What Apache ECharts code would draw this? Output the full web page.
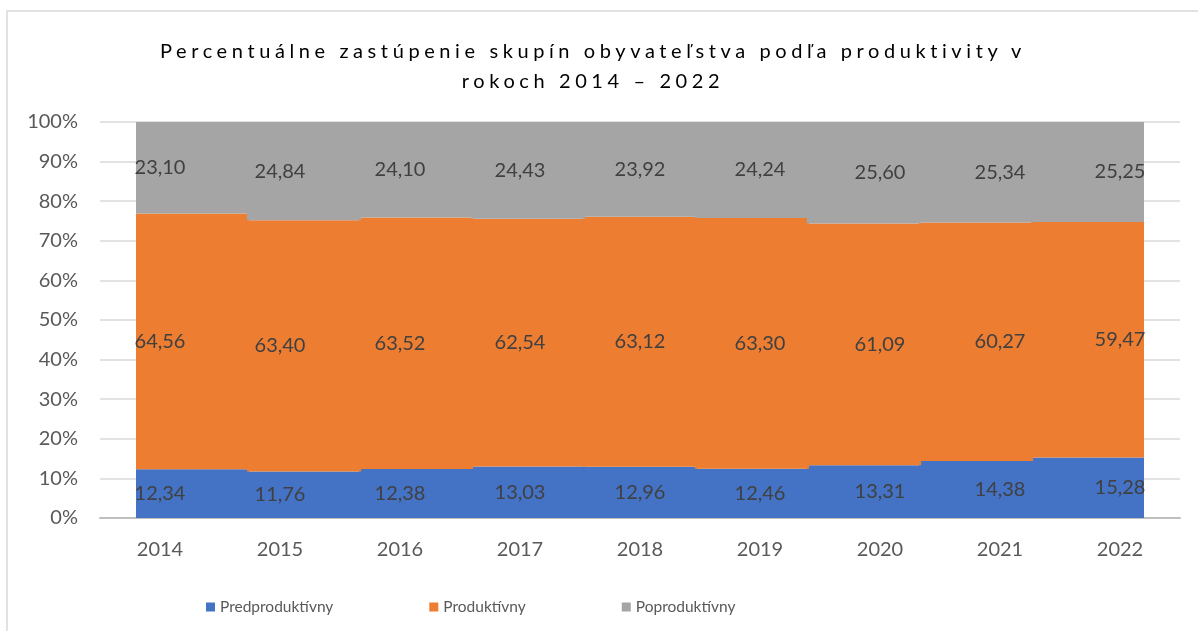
<!DOCTYPE html>
<html>
<head>
<meta charset="utf-8">
<script src="https://cdn.jsdelivr.net/npm/echarts@6/dist/echarts.min.js"></script>
<style>
  html, body { margin: 0; padding: 0; background: #fff; }
  .wrap { position: relative; width: 1198px; height: 631px; }
  #chart { width: 1198px; height: 631px; }
  .title {
    position: absolute;
    left: 0;
    width: 1186px;
    top: 35px;
    text-align: center;
    font-family: Lato, "Noto Sans", sans-serif;
    font-size: 20px;
    line-height: 30px;
    letter-spacing: 4.6px;
    color: #000;
    pointer-events: none;
  }
</style>
</head>
<body>
<div class="wrap">
  <div id="chart"></div>
  <div class="title">Percentuálne zastúpenie skupín obyvateľstva podľa produktivity v<br>rokoch 2014 – 2022</div>
</div>
<script>
const years = ['2014', '2015', '2016', '2017', '2018', '2019', '2020', '2021', '2022']
const predproduktivny = [12.34, 11.76, 12.38, 13.03, 12.96, 12.46, 13.31, 14.38, 15.28]
const produktivny = [64.56, 63.40, 63.52, 62.54, 63.12, 63.30, 61.09, 60.27, 59.47]
const poproduktivny = [23.10, 24.84, 24.10, 24.43, 23.92, 24.24, 25.60, 25.34, 25.25]

const names = ['Predproduktívny', 'Produktívny', 'Poproduktívny']
const values = [predproduktivny, produktivny, poproduktivny]
const colors = ['#4472C4', '#ED7D31', '#A5A5A5']

const font = 'Lato, "Noto Sans", sans-serif'
const fmt = (v) => v.toFixed(2).replace('.', ',')

const chart = echarts.init(document.getElementById('chart'))

// visible bands: a second grid, inset a bit, bars overlap slightly so no seams show
const barSeries = names.map((name, i) => ({
  name,
  type: 'bar',
  stack: 'bars',
  xAxisIndex: 1,
  yAxisIndex: 1,
  barCategoryGap: '-2%',
  data: values[i],
  itemStyle: { color: colors[i] },
  silent: true,
}))

// value labels sit over the year ticks of the main axis
const labelSeries = names.map((name, i) => ({
  name,
  type: 'bar',
  stack: 'labels',
  xAxisIndex: 0,
  yAxisIndex: 0,
  barCategoryGap: '0%',
  data: values[i],
  itemStyle: { color: 'rgba(0,0,0,0)' },
  silent: true,
  z: 5,
  label: {
    show: true,
    position: 'inside',
    formatter: (p) => fmt(p.value),
    color: '#404040',
    fontSize: 20,
    fontFamily: font,
  },
}))

chart.setOption({
  animation: false,
  legend: {
    data: names,
    left: 201,
    top: 594,
    icon: 'rect',
    itemWidth: 9,
    itemHeight: 9,
    itemGap: 96,
    textStyle: { fontSize: 15.5, color: '#595959', fontFamily: font },
    selectedMode: false,
  },
  graphic: [
    {
      type: 'rect',
      shape: { x: 7, y: 11, width: 1200, height: 640 },
      style: { fill: null, stroke: '#d9d9d9', lineWidth: 1.5 },
      silent: true,
    },
  ],
  grid: [
    { left: 100, right: 18, top: 122, bottom: 113 },
    { left: 136, right: 54, top: 122, bottom: 113 },
  ],
  xAxis: [
    {
      type: 'category',
      gridIndex: 0,
      data: years,
      axisLine: { lineStyle: { color: '#bfbfbf', width: 2 } },
      axisTick: { show: false },
      axisLabel: { color: '#595959', fontSize: 20, fontFamily: font, margin: 22 },
    },
    {
      type: 'category',
      gridIndex: 1,
      data: years,
      show: false,
    },
  ],
  yAxis: [
    {
      type: 'value',
      gridIndex: 0,
      min: 0,
      max: 100,
      interval: 10,
      axisLine: { show: false },
      axisTick: { show: false },
      axisLabel: {
        formatter: '{value}%',
        color: '#595959',
        fontSize: 20,
        fontFamily: font,
        margin: 22,
      },
      splitLine: { lineStyle: { color: '#d9d9d9', width: 1.5 } },
    },
    {
      type: 'value',
      gridIndex: 1,
      min: 0,
      max: 100,
      show: false,
    },
  ],
  series: [...barSeries, ...labelSeries],
})
</script>
</body>
</html>
